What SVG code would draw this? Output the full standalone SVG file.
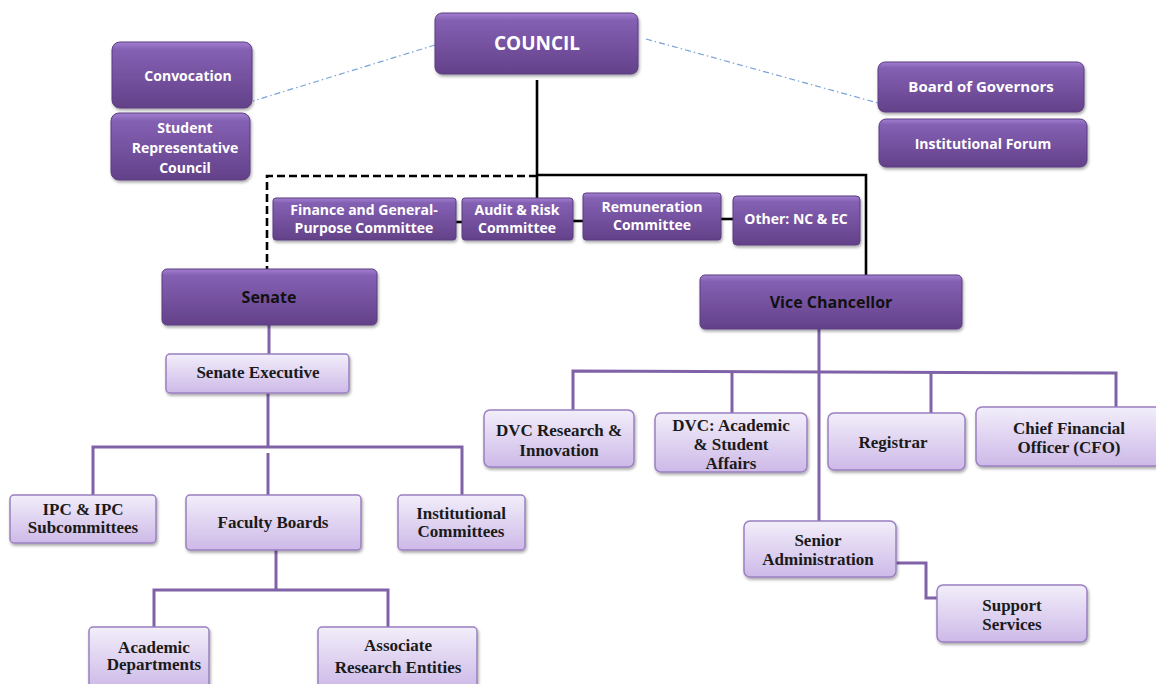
<svg xmlns="http://www.w3.org/2000/svg" width="1156" height="684" viewBox="0 0 1156 684">
<defs>
<linearGradient id="gDark" x1="0" y1="0" x2="0" y2="1">
<stop offset="0" stop-color="#a27fd0"/>
<stop offset="0.12" stop-color="#8460b3"/>
<stop offset="1" stop-color="#634189"/>
</linearGradient>
<linearGradient id="gLight" x1="0" y1="0" x2="0" y2="1">
<stop offset="0" stop-color="#f2eefa"/>
<stop offset="1" stop-color="#cdb9e8"/>
</linearGradient>
<filter id="sh" x="-10%" y="-10%" width="120%" height="130%">
<feDropShadow dx="1" dy="2" stdDeviation="1.5" flood-color="#000" flood-opacity="0.35"/>
</filter>
</defs>
<style>
.dk{fill:url(#gDark);stroke:#5a3d80;stroke-width:1;filter:url(#sh)}
.lt{fill:url(#gLight);stroke:#9a80c0;stroke-width:1.5;filter:url(#sh)}
.tw{font-family:"Open Sans","Liberation Sans",sans-serif;font-weight:bold;fill:#ffffff;text-anchor:middle;font-size:14px}
.tb{font-family:"Open Sans","Liberation Sans",sans-serif;font-weight:bold;fill:#111111;text-anchor:middle;font-size:16px}
.ts{font-family:"Liberation Serif","DejaVu Serif",serif;font-weight:bold;fill:#1a1a1a;text-anchor:middle;font-size:17px}
.big{font-size:19px}
.bg2{font-size:15px}
.pl{fill:none;stroke:#8062a8;stroke-width:3}
.bk{fill:none;stroke:#000;stroke-width:2.6}
.bd{fill:none;stroke:#000;stroke-width:2.6;stroke-dasharray:8,4}
.bl{fill:none;stroke:#7aa2d6;stroke-width:1.2;stroke-dasharray:6,3,1.5,3}
</style>
<rect width="1156" height="684" fill="#ffffff"/>

<g id="connectors">
<line class="bl" x1="435" y1="45" x2="253" y2="101"/>
<line class="bl" x1="646" y1="39" x2="878" y2="103"/>
<line class="bk" x1="537" y1="80" x2="537" y2="198"/>
<polyline class="bk" points="537,175 866,175 866,276"/>
<polyline class="bd" points="537,176 267,176 267,269"/>
<line class="bk" x1="456" y1="222" x2="462" y2="222"/>
<line class="bk" x1="573" y1="221" x2="583" y2="221"/>
<line class="bk" x1="721" y1="219" x2="733" y2="219"/>
<line class="pl" x1="269" y1="325" x2="269" y2="354"/>
<line class="pl" x1="268" y1="393" x2="268" y2="447"/>
<polyline class="pl" points="93,495 93,447 462,447 462,495"/>
<line class="pl" x1="268" y1="453" x2="268" y2="495"/>
<line class="pl" x1="276" y1="550" x2="276" y2="590"/>
<polyline class="pl" points="154,627 154,590 388,590 388,627"/>
<line class="pl" x1="819" y1="329" x2="819" y2="521"/>
<polyline class="pl" points="573,410 573,371 1116,373 1116,407"/>
<line class="pl" x1="732" y1="372" x2="732" y2="413"/>
<line class="pl" x1="931" y1="373" x2="931" y2="413"/>
<polyline class="pl" points="896,563 926,563 926,598 937,598"/>
</g>

<g id="council"><rect class="dk" x="435" y="13" width="203" height="61" rx="7"/><text class="tw big" x="537" y="50">COUNCIL</text></g>
<g id="convocation"><rect class="dk" x="112" y="42" width="140" height="66" rx="8"/><text class="tw" x="188" y="81">Convocation</text></g>
<g id="src"><rect class="dk" x="111" y="113" width="139" height="67" rx="8"/><text class="tw" x="185" y="133">Student</text><text class="tw" x="185" y="153">Representative</text><text class="tw" x="185" y="173">Council</text></g>
<g id="board"><rect class="dk" x="878" y="62" width="206" height="50" rx="7"/><text class="tw bg2" x="981" y="92">Board of Governors</text></g>
<g id="forum"><rect class="dk" x="879" y="119" width="208" height="48" rx="7"/><text class="tw" x="983" y="149">Institutional Forum</text></g>

<g id="finance"><rect class="dk" x="273" y="198" width="183" height="42" rx="3"/><text class="tw" x="364" y="215">Finance and General-</text><text class="tw" x="364" y="233">Purpose Committee</text></g>
<g id="audit"><rect class="dk" x="462" y="198" width="111" height="42" rx="3"/><text class="tw" x="517" y="215">Audit &amp; Risk</text><text class="tw" x="517" y="233">Committee</text></g>
<g id="remuneration"><rect class="dk" x="583" y="193" width="138" height="47" rx="3"/><text class="tw" x="652" y="212">Remuneration</text><text class="tw" x="652" y="230">Committee</text></g>
<g id="other"><rect class="dk" x="733" y="196" width="127" height="49" rx="4"/><text class="tw" x="796" y="224">Other: NC &amp; EC</text></g>

<g id="senate"><rect class="dk" x="162" y="269" width="215" height="56" rx="5"/><text class="tb" x="269" y="303">Senate</text></g>
<g id="vc"><rect class="dk" x="700" y="275" width="262" height="54" rx="5"/><text class="tb" x="831" y="308">Vice Chancellor</text></g>

<g id="senate-exec"><rect class="lt" x="166" y="354" width="183" height="39" rx="4"/><text class="ts" x="258" y="378">Senate Executive</text></g>
<g id="ipc"><rect class="lt" x="10" y="495" width="146" height="48" rx="4"/><text class="ts" x="83" y="515">IPC &amp;  IPC</text><text class="ts" x="83" y="533">Subcommittees</text></g>
<g id="faculty"><rect class="lt" x="186" y="495" width="175" height="55" rx="4"/><text class="ts" x="273" y="528">Faculty Boards</text></g>
<g id="inst-comm"><rect class="lt" x="398" y="495" width="127" height="55" rx="4"/><text class="ts" x="461" y="519">Institutional</text><text class="ts" x="461" y="537">Committees</text></g>
<g id="academic"><rect class="lt" x="89" y="627" width="120" height="62" rx="4"/><text class="ts" x="154" y="653">Academic</text><text class="ts" x="154" y="670">Departments</text></g>
<g id="associate"><rect class="lt" x="318" y="627" width="159" height="62" rx="4"/><text class="ts" x="398" y="651">Associate</text><text class="ts" x="398" y="673">Research Entities</text></g>

<g id="dvc-ri"><rect class="lt" x="484" y="410" width="150" height="57" rx="6"/><text class="ts" x="559" y="436">DVC Research &amp;</text><text class="ts" x="559" y="456">Innovation</text></g>
<g id="dvc-asa"><rect class="lt" x="655" y="413" width="152" height="59" rx="6"/><text class="ts" x="731" y="431">DVC: Academic</text><text class="ts" x="731" y="450">&amp; Student</text><text class="ts" x="731" y="469">Affairs</text></g>
<g id="registrar"><rect class="lt" x="828" y="413" width="137" height="57" rx="6"/><text class="ts" x="893" y="448">Registrar</text></g>
<g id="cfo"><rect class="lt" x="976" y="407" width="185" height="59" rx="6"/><text class="ts" x="1069" y="434">Chief Financial</text><text class="ts" x="1069" y="453">Officer (CFO)</text></g>
<g id="senior-admin"><rect class="lt" x="744" y="521" width="152" height="56" rx="6"/><text class="ts" x="818" y="546">Senior</text><text class="ts" x="818" y="565">Administration</text></g>
<g id="support"><rect class="lt" x="937" y="585" width="150" height="57" rx="6"/><text class="ts" x="1012" y="611">Support</text><text class="ts" x="1012" y="630">Services</text></g>
</svg>
